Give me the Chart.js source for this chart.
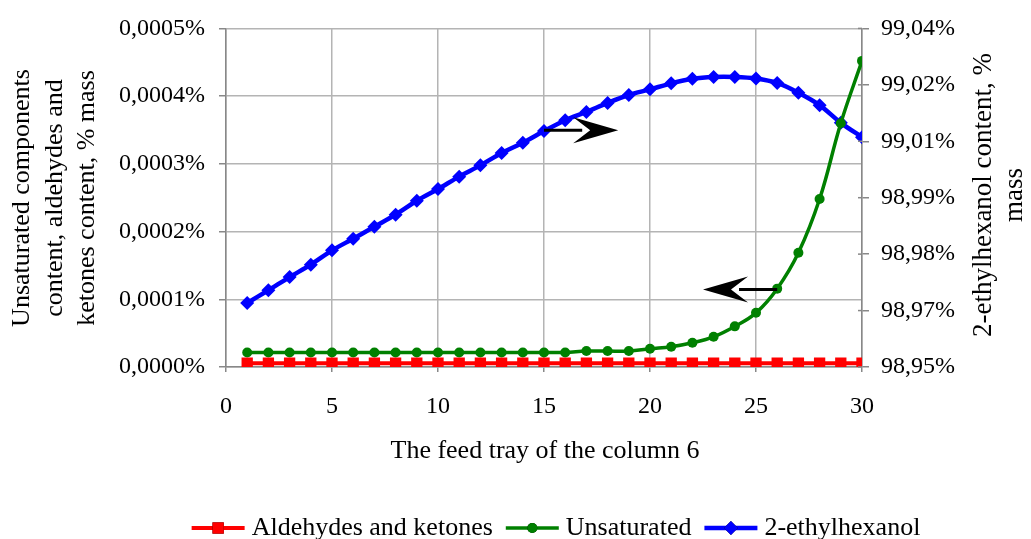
<!DOCTYPE html>
<html>
<head>
<meta charset="utf-8">
<script src="https://cdn.jsdelivr.net/npm/chart.js@4.4.1/dist/chart.umd.min.js"></script>
<style>
  html, body { margin: 0; padding: 0; background: #fff; }
  #wrap { width: 1031px; height: 539px; position: relative; }
</style>
</head>
<body>
<div id="wrap"><canvas id="c" width="1031" height="539"></canvas></div>
<script>
// ---- data ----
const trays = [1,2,3,4,5,6,7,8,9,10,11,12,13,14,15,16,17,18,19,20,21,22,23,24,25,26,27,28,29,30];
const aldehydesKetones = [0.0000055,0.0000055,0.0000055,0.0000055,0.0000055,0.0000055,0.0000055,0.0000055,0.0000055,0.0000055,
                          0.0000055,0.0000055,0.0000055,0.0000055,0.0000055,0.0000055,0.0000055,0.0000055,0.0000055,0.0000055,
                          0.0000055,0.0000055,0.0000055,0.0000055,0.0000055,0.0000055,0.0000055,0.0000055,0.0000055,0.0000055];
const unsaturated = [0.0000215,0.0000215,0.0000215,0.0000215,0.0000215,0.0000215,0.0000215,0.0000215,0.0000215,0.0000215,
                     0.0000215,0.0000215,0.0000215,0.0000215,0.0000215,0.0000215,0.0000235,0.0000235,0.0000235,0.000027,
                     0.00003,0.0000358,0.0000446,0.00006,0.00008,0.0001157,0.0001686,0.000248,0.00036,0.000452];
const ethylhexanol = [98.967,98.9704,98.9739,98.9772,98.9810,98.9841,98.9873,98.9905,98.9942,98.9973,
                      99.0006,99.0036,99.0069,99.0096,99.0127,99.0156,99.0178,99.0202,99.0223,99.0238,
                      99.0254,99.0266,99.0271,99.0271,99.0267,99.0255,99.0229,99.0196,99.0149,99.0111];
const seriesNames = ['Aldehydes and ketones', 'Unsaturated', '2-ethylhexanol'];
const rightTickValues = [98.95, 98.965, 98.98, 98.995, 99.01, 99.025, 99.04];
const rightTickLabels = ['98,95%', '98,97%', '98,98%', '98,99%', '99,01%', '99,02%', '99,04%'];
const xTitle = 'The feed tray of the column 6';
const leftTitleLines = ['Unsaturated components', 'content, aldehydes and', 'ketones content, % mass'];
const rightTitleLines = ['2-ethylhexanol content, %', 'mass'];
// annotation arrows (data coordinates)
const arrowStartX = [15, 26];
const arrowTipX = [18.5, 22.5];
const arrowY = [99.0129, 0.0001143];
const arrowAxis = ['y2', 'y'];

const FONT = '"Liberation Serif", "Times New Roman", serif';

const toPts = (vals) => vals.map((v, i) => ({ x: trays[i], y: v }));

const extras = {
  id: 'extras',
  afterDraw(chart) {
    const ctx = chart.ctx;
    const xs = chart.scales.x;
    ctx.save();
    // right axis tick marks extending inside the plot
    const r = chart.scales.y2;
    ctx.strokeStyle = '#888';
    ctx.lineWidth = 1.5;
    rightTickValues.forEach(v => {
      const y = r.getPixelForValue(v);
      ctx.beginPath();
      ctx.moveTo(r.left - 4, y);
      ctx.lineTo(r.left, y);
      ctx.stroke();
    });
    // arrows
    ctx.fillStyle = '#000';
    ctx.strokeStyle = '#000';
    for (let i = 0; i < arrowStartX.length; i++) {
      const ys = chart.scales[arrowAxis[i]];
      const x0 = xs.getPixelForValue(arrowStartX[i]);
      const x1 = xs.getPixelForValue(arrowTipX[i]);
      const y = ys.getPixelForValue(arrowY[i]);
      const dir = Math.sign(x1 - x0);
      ctx.lineWidth = 3;
      ctx.beginPath();
      ctx.moveTo(x0, y);
      ctx.lineTo(x1 - dir * 36, y);
      ctx.stroke();
      ctx.beginPath();
      ctx.moveTo(x1, y);
      ctx.lineTo(x1 - dir * 45, y - 13);
      ctx.lineTo(x1 - dir * 28, y);
      ctx.lineTo(x1 - dir * 45, y + 13);
      ctx.closePath();
      ctx.fill();
    }
    // axis titles
    ctx.fillStyle = '#000';
    ctx.font = '26px ' + FONT;
    ctx.textAlign = 'center';
    ctx.textBaseline = 'middle';
    ctx.fillText(xTitle, 545, 451);
    const leftX = [22, 55, 87];
    leftTitleLines.forEach((t, i) => {
      ctx.save();
      ctx.translate(leftX[i], 198);
      ctx.rotate(-Math.PI / 2);
      ctx.fillText(t, 0, 0);
      ctx.restore();
    });
    ctx.save();
    ctx.beginPath();
    ctx.rect(940, 53, 91, 486);
    ctx.clip();
    ctx.font = '27px ' + FONT;
    const rightX = [984, 1015];
    rightTitleLines.forEach((t, i) => {
      ctx.save();
      ctx.translate(rightX[i], 195);
      ctx.rotate(-Math.PI / 2);
      ctx.fillText(t, 0, 0);
      ctx.restore();
    });
    ctx.restore();
    // legend
    ctx.font = '26px ' + FONT;
    ctx.textAlign = 'left';
    const lineLen = 53, gapText = 7, gapItem = 13;
    const ds = chart.data.datasets;
    let total = 0;
    const widths = ds.map(d => ctx.measureText(d.label).width);
    widths.forEach((w, i) => { total += lineLen + gapText + w + (i < widths.length - 1 ? gapItem : 0); });
    let lx = 556 - total / 2;
    const ly = 528;
    ds.forEach((d, i) => {
      ctx.strokeStyle = d.borderColor;
      ctx.lineWidth = d.borderWidth;
      ctx.beginPath();
      ctx.moveTo(lx, ly);
      ctx.lineTo(lx + lineLen, ly);
      ctx.stroke();
      Chart.helpers.drawPoint(ctx, { pointStyle: d.pointStyle, radius: d.pointRadius, borderWidth: 0, rotation: 0 }, lx + lineLen / 2, ly);
      ctx.fillStyle = d.backgroundColor;
      ctx.fill();
      ctx.fillStyle = '#000';
      ctx.fillText(d.label, lx + lineLen + gapText, ly);
      lx += lineLen + gapText + widths[i] + gapItem;
    });
    ctx.restore();
  }
};

new Chart(document.getElementById('c'), {
  type: 'line',
  data: {
    datasets: [
      { label: seriesNames[0], data: toPts(aldehydesKetones), yAxisID: 'y',
        borderColor: '#ff0000', backgroundColor: '#ff0000', borderWidth: 4,
        pointStyle: 'rect', pointRadius: 8, pointBorderWidth: 0, tension: 0 },
      { label: seriesNames[1], data: toPts(unsaturated), yAxisID: 'y',
        borderColor: '#008000', backgroundColor: '#008000', borderWidth: 3.5,
        pointStyle: 'circle', pointRadius: 5, pointBorderWidth: 0, tension: 0.4 },
      { label: seriesNames[2], data: toPts(ethylhexanol), yAxisID: 'y2',
        borderColor: '#0000ff', backgroundColor: '#0000ff', borderWidth: 4.5,
        pointStyle: 'rectRot', pointRadius: 7, pointBorderWidth: 0, tension: 0.3 }
    ]
  },
  options: {
    responsive: false,
    animation: false,
    layout: { padding: { left: 0, right: 0, top: 27, bottom: 72 } },
    plugins: { legend: { display: false }, tooltip: { enabled: false } },
    scales: {
      x: {
        type: 'linear', min: 0, max: 30,
        ticks: { stepSize: 5, color: '#000', font: { family: FONT, size: 24 }, padding: 20, maxRotation: 0 },
        grid: { color: '#b4b4b4', lineWidth: 1.5, tickLength: 5, tickColor: '#888' },
        border: { color: '#888', width: 1.5 },
        afterFit(s) { s.height = 100; }
      },
      y: {
        position: 'left', min: 0, max: 0.0005,
        ticks: { stepSize: 0.0001, color: '#000', font: { family: FONT, size: 24 }, padding: 14,
                 callback: (v) => v.toFixed(4).replace('.', ',') + '%' },
        grid: { color: '#b4b4b4', lineWidth: 1.5, tickLength: 7, tickColor: '#888' },
        border: { color: '#888', width: 1.5 },
        afterFit(s) { s.width = 226; }
      },
      y2: {
        position: 'right', min: 98.95, max: 99.04,
        afterBuildTicks(s) { s.ticks = rightTickValues.map(v => ({ value: v })); },
        ticks: { color: '#000', font: { family: FONT, size: 24 }, padding: 12,
                 callback: (v, i) => rightTickLabels[i] },
        grid: { drawOnChartArea: false, tickLength: 7, color: '#888', lineWidth: 1.5 },
        border: { color: '#888', width: 1.5 },
        afterFit(s) { s.width = 169; }
      }
    }
  },
  plugins: [extras]
});
</script>
</body>
</html>
